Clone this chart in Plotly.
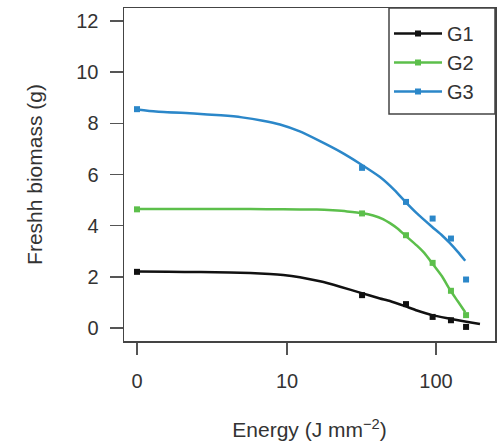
import numpy as np
import plotly.graph_objects as go

# ---- data ----
groups = ["G1", "G2", "G3"]
colors = ["#111111", "#5cbf4b", "#2b87c9"]

energy_pts = [0, 32, 63, 95, 126, 159]
g1_pts = [2.20, 1.29, 0.94, 0.44, 0.31, 0.05]
g2_pts = [4.64, 4.48, 3.63, 2.55, 1.46, 0.51]
g3_pts = [8.55, 6.26, 4.93, 4.28, 3.50, 1.90]

g1_curve_e = [0, 1.0, 2.3, 3.95, 5.56, 7.6, 9.4, 12.2, 16.7, 22.8, 31, 42.2, 49.2, 62, 74.6, 94, 124, 160, 197]
g1_curve_v = [2.21, 2.20, 2.19, 2.17, 2.15, 2.12, 2.08, 1.99, 1.83, 1.62, 1.39, 1.16, 1.06, 0.86, 0.69, 0.51, 0.37, 0.25, 0.16]

g2_curve_e = [0, 2.27, 5.56, 9.4, 15.9, 20.4, 25.4, 32.4, 38, 44.2, 49.2, 55, 62, 74.6, 84, 94, 110, 124, 140, 157]
g2_curve_v = [4.65, 4.65, 4.65, 4.64, 4.63, 4.60, 4.56, 4.49, 4.40, 4.26, 4.10, 3.90, 3.63, 3.22, 2.92, 2.55, 2.02, 1.50, 1.05, 0.62]

g3_curve_e = [0, 0.59, 1.99, 3.37, 4.84, 6.8, 8.94, 12.2, 16.7, 22.8, 31, 42.2, 53, 62, 74.6, 94, 110, 124, 140, 157]
g3_curve_v = [8.54, 8.46, 8.38, 8.31, 8.23, 8.10, 7.95, 7.68, 7.30, 6.89, 6.42, 5.90, 5.38, 4.95, 4.48, 3.96, 3.62, 3.32, 2.98, 2.63]

x_tick_vals = [0, 10, 100]
y_tick_vals = [0, 2, 4, 6, 8, 10, 12]


def tr(e):
    """pseudo-log axis transform (asinh based)"""
    return np.arcsinh(np.asarray(e, dtype=float) / 2.0) / np.log(10)


pts = [g1_pts, g2_pts, g3_pts]
curves = [(g1_curve_e, g1_curve_v), (g2_curve_e, g2_curve_v), (g3_curve_e, g3_curve_v)]

fig = go.Figure()
for name, col, p, (ce, cv) in zip(groups, colors, pts, curves):
    fig.add_trace(go.Scatter(x=tr(ce), y=cv, mode="lines", line=dict(color=col, width=2.5, shape="spline", smoothing=0.5),
                             showlegend=False, hoverinfo="skip"))
    fig.add_trace(go.Scatter(x=tr(energy_pts), y=p, mode="markers",
                             marker=dict(symbol="square", size=6, color=col), showlegend=False))
for name, col in zip(groups, colors):
    fig.add_trace(go.Scatter(x=[None], y=[None], mode="lines+markers", name=name,
                             line=dict(color=col, width=2.5),
                             marker=dict(symbol="square", size=6, color=col)))

font_fam = "Liberation Sans, Arial, sans-serif"
txt_col = "#333333"
fig.update_layout(
    width=498, height=447,
    margin=dict(l=124, r=3, t=8, b=106, autoexpand=False),
    paper_bgcolor="white", plot_bgcolor="white",
    font=dict(family=font_fam, size=20, color=txt_col),
    showlegend=True,
    legend=dict(x=(389 - 124) / 371, xanchor="left", y=1 - 6 / 333, yanchor="top", font=dict(size=20, color=txt_col),
                bgcolor="rgba(0,0,0,0)", borderwidth=0, itemwidth=48, tracegroupgap=0),
    shapes=[dict(type="rect", xref="paper", yref="paper", x0=(389 - 124) / 371, x1=1.0,
                 y0=1 - (114 - 8) / 333, y1=1.0, line=dict(color="#444444", width=1.5))],
)
fig.update_xaxes(
    range=[-0.087, 2.395], tickmode="array", tickvals=tr(x_tick_vals).tolist(),
    ticktext=[str(v) for v in x_tick_vals], automargin=False,
    showgrid=False, zeroline=False, showline=True, mirror=True, linecolor="#444444", linewidth=1.5,
    ticks="outside", ticklen=12, tickwidth=1.5, tickcolor="#555555",
    tickfont=dict(size=20, color=txt_col), ticklabelstandoff=9,
    title=dict(text="Energy (J mm<sup>−2</sup>)", font=dict(size=21, color=txt_col), standoff=32),
)
fig.update_yaxes(
    range=[-0.5, 12.5], tickmode="array", tickvals=y_tick_vals, ticktext=[str(v) for v in y_tick_vals],
    automargin=False,
    showgrid=False, zeroline=False, showline=True, mirror=True, linecolor="#444444", linewidth=1.5,
    ticks="outside", ticklen=13, tickwidth=1.5, tickcolor="#555555",
    tickfont=dict(size=20, color=txt_col), ticklabelstandoff=7,
    title=dict(text="Freshh biomass (g)", font=dict(size=21, color=txt_col), standoff=28),
)
fig.write_html("out.html", config={"displayModeBar": False, "staticPlot": True},
               post_script="document.body.style.margin='0';document.body.style.overflow='hidden';")
